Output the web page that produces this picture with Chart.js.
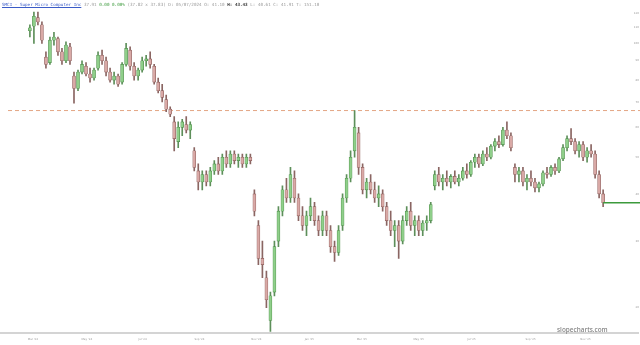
<!DOCTYPE html>
<html lang="en">
<head>
  <meta charset="UTF-8" />
  <title>SMCI - Super Micro Computer Inc</title>
  <script src="https://cdn.jsdelivr.net/npm/chart.js"></script>
  <style>
    body {
      margin: 0;
      background: #fff;
      font-family: 'DejaVu Sans Mono', monospace;
    }
    #wrap {
      position: relative;
      width: 640px;
      height: 345px;
    }
    #header {
      position: absolute;
      left: 2px;
      top: 2.5px;
      font-size: 4.25px;
      line-height: 4.5px;
      white-space: pre;
      color: #999;
      z-index: 2;
    }
    #header a {
      color: #3a5bc7;
      text-decoration: underline;
    }
    #header .chg { color: #3c9a3c; }
    #header b { color: #333; }
    #brand {
      position: absolute;
      left: 557px;
      top: 325px;
      font-family: 'Open Sans', sans-serif;
      font-weight: 600;
      font-size: 6.4px;
      color: #888;
      z-index: 2;
    }
  </style>
</head>
<body>
  <div id="wrap">
    <div id="header"><a>SMCI - Super Micro Computer Inc</a> 37.91 <span class="chg">0.00 0.00%</span> (37.82 x 37.83) D: 05/07/2024 O: 41.10 <b>H: 43.43</b> L: 40.61 C: 41.91 T: 151.10</div>
    <div id="brand">slopecharts.com</div>
    <canvas id="chart"></canvas>
  </div>

  <script>
    // daily-ish OHLC (log price axis)
    const opens = [108,111,117,112,92,89,102,103,95,90,
      98,82,76,84,87,83,81,86,93,90,
      84,80,82,79,88,96,87,82,85,90,
      91,87,79,75,71,67,62,55,60,61,
      59,52,46,43,45,43,46,48,46,50,
      48,51,49,50,48,50,40,33,27,24,
      18.5,22,30,36,41,39,44,39,35,33,
      35,37,34,32,35,32,29,28,33,39,
      44,52,58,47,41,43,41,39,40,37,
      34,32,33,30,34,36,33,34,32,33.5,
      34,42,45,43,44,43,44.5,43,44,46,
      45,48.5,50,48,51,50,53.5,55,54,59,
      57,47,45,46,43,44,43,41.5,42.5,45.5,
      45,47,46,49.5,53,56,55,52,54,50,
      52,51,45,40];
    const highs = [112,121,121,114,95,104,107,104,97,101,
      100,84,85,90,89,86,86,95,96,92,
      86,84,83,89,100,98,89,86,92,93,
      95,88,81,78,73,68,64,62,63,64,
      62,53,48,46,46,47,49,50,51,52,
      52,52,51,51,51,51,41,34,30,25,
      22,30,37,42,44,47,46,40,37,36,
      39,38,35,36,36,33,30,33,40,45,
      52,66.4,60,48,44,45,43,42,41,38,
      36,34,34,35,37,38,35,35,34,35,
      38,46,47,45,46,45,46,45,47,48,
      49,51,51,52,53,54,56,57,60,62,
      58,48,47,47,45,46,44,43,46,47,
      47.5,48,50,54,57,59.5,56,55,55,53,
      54,52,46,41];
    const lows = [104,100,112,100,86,88,99,93,88,89,
      88,69.5,75,83,82,79,80,85,88,82,
      79,78,77,78,87,85,80,80,84,87,
      86,78,74,70,66,64,52,53,57,58,
      56,46,41,41,42,42,45,45,45,47,
      47,48,47,47,47,48,35,26,24,20,
      17.3,21.5,29,35,38,38,38,34,32,31,
      34,33,31,31,31,28,26.5,27.5,32,38,
      43,50,45,40,39,40,38,37,36,33,
      31,29,27,29.5,33,32,31,31,31,32,
      33.5,41,42,41,42,41.5,42.5,42,43.5,44,
      44.5,47,47,47.5,49,49.5,52,53,53.5,56,
      52,43,43,42,41,42,40.5,40.5,42,44,
      44.5,45,45.5,49,52,54,51,50,49,48.5,
      50,44,39,37];
    const closes = [110,118,114,102,88,102,104,95,90,99,
      90,76,84,88,83,81,85,93,90,84,
      80,82,78,88,97,87,82,85,90,91,
      88,79,75,72,67,65,56,60,62,59,
      61,47,43,45,43,46,48,46,50,48,
      51,49,50,48,50,49,36,27,26,21,
      21.5,29,36,41,39,45,39,35,33,35,
      37,34,32,35,32,29,28,32,39,44,
      50,60,47,41,43,41,39,40,37,34,
      32,33,30,34,36,33,34,32,33.5,34,
      37.5,45,43,44,43,44.5,43,44,46,45,
      48.5,50,48,51,50,53.5,55,54,59,57,
      53,45,46,43,44,43,41.5,42.5,45.5,45,
      47,46,49.5,53,56,55,52,54,50,52,
      51,45,40,37.91];

    const priorHigh = 66.44;   // dashed level
    const lastPrice = 37.91;   // green last-price line

    const yTicks = [20, 30, 40, 50, 60, 70, 80, 90, 100, 110, 120];
    const tickLabels = ["Mar '24", "May '24", "Jul '24", "Sep '24", "Nov '24", "Jan '25",
      "Mar '25", "May '25", "Jul '25", "Sep '25", "Nov '25"];
    const tickPos = [0.75, 14.2, 28.1, 42.3, 56.5, 69.7, 82.8, 97.0, 110.2, 124.9, 138.6];

    const idx = opens.map((_, i) => i);
    const isUp = idx.map(i => closes[i] >= opens[i]);

    const levels = {
      id: 'levels',
      beforeDatasetsDraw(chart) {
        const { ctx, chartArea, scales: { y } } = chart;
        const yy = y.getPixelForValue(priorHigh);
        ctx.save();
        ctx.strokeStyle = '#e3a584';
        ctx.lineWidth = 1;
        ctx.setLineDash([4, 3]);
        ctx.beginPath();
        ctx.moveTo(chartArea.left + 8, yy);
        ctx.lineTo(chart.width, yy);
        ctx.stroke();
        ctx.restore();
      },
      afterDatasetsDraw(chart) {
        const { ctx, scales: { x, y } } = chart;
        const yy = y.getPixelForValue(lastPrice);
        ctx.save();
        ctx.strokeStyle = '#3c9a3c';
        ctx.lineWidth = 1.5;
        ctx.beginPath();
        ctx.moveTo(x.getPixelForValue(idx.length - 1), yy);
        ctx.lineTo(chart.width, yy);
        ctx.stroke();
        ctx.restore();
      }
    };

    const tickFont = { family: 'DejaVu Sans', size: 2.7 };

    new Chart(document.getElementById('chart'), {
      type: 'bar',
      data: {
        datasets: [
          {
            label: 'body',
            data: idx.map(i => ({ x: i, y: [opens[i], closes[i]] })),
            backgroundColor: idx.map(i => isUp[i] ? '#8fcf8a' : '#d9a9a6'),
            borderColor: idx.map(i => isUp[i] ? '#4e8e4a' : '#8e5f5c'),
            borderWidth: 0.6,
            borderSkipped: false,
            barThickness: 3,
            grouped: false,
            order: 0
          },
          {
            label: 'wick',
            data: idx.map(i => ({ x: i, y: [lows[i], highs[i]] })),
            backgroundColor: idx.map(i => isUp[i] ? '#5d8f5a' : '#8a6562'),
            barThickness: 1,
            grouped: false,
            order: 1
          }
        ]
      },
      options: {
        responsive: true,
        maintainAspectRatio: false,
        animation: false,
        layout: { padding: 0 },
        plugins: { legend: { display: false }, tooltip: { enabled: false } },
        scales: {
          x: {
            type: 'linear',
            offset: false,
            min: -7.46,
            max: 151.7,
            grid: { display: false, drawTicks: false },
            border: { display: true, color: '#d4d4d4', width: 2 },
            afterBuildTicks: s => { s.ticks = tickPos.map(v => ({ value: v })); },
            ticks: {
              autoSkip: false,
              maxRotation: 0,
              padding: 4.5,
              color: '#999',
              font: tickFont,
              callback: (v, k) => tickLabels[k]
            }
          },
          y: {
            type: 'logarithmic',
            position: 'right',
            min: 17.17,
            max: 128.2,
            grid: { display: false, drawTicks: false },
            border: { display: false },
            afterBuildTicks: s => { s.ticks = yTicks.map(v => ({ value: v })); },
            ticks: {
              mirror: true,
              padding: 1,
              color: '#999',
              font: tickFont,
              callback: v => v
            }
          }
        }
      },
      plugins: [levels]
    });
  </script>
</body>
</html>
